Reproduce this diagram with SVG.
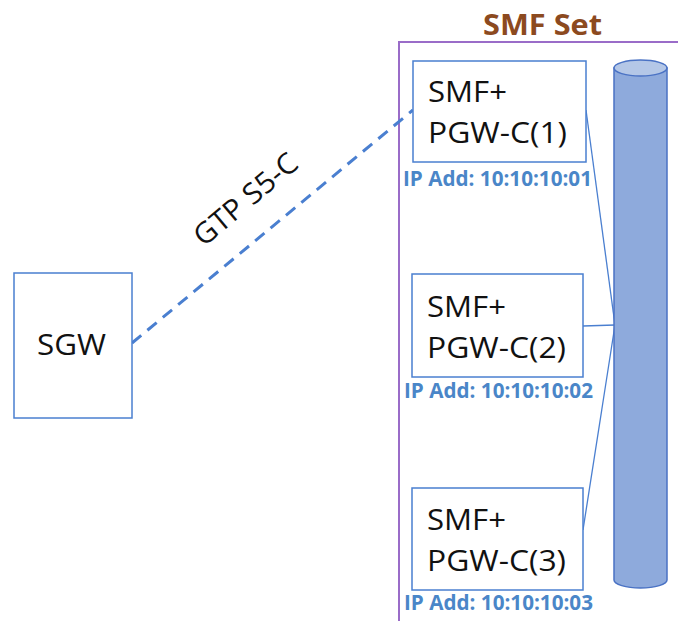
<svg xmlns="http://www.w3.org/2000/svg" width="678" height="621" viewBox="0 0 678 621">
<style>
.box{fill:#fff;stroke:#4a7fd0;stroke-width:1.5}
.lbl{font-family:"Open Sans","Liberation Sans",sans-serif;font-size:29px;fill:#111}
.ip{font-family:"Open Sans","Liberation Sans",sans-serif;font-size:21px;font-weight:bold;fill:#4a86c8}
.conn{stroke:#4a7fd0;stroke-width:1.3;fill:none}
</style>
<rect width="678" height="621" fill="#fff"/>
<g id="smf-set">
<rect x="399" y="42" width="290" height="600" fill="none" stroke="#9a6cc8" stroke-width="2"/>
<text x="483" y="35" textLength="119" lengthAdjust="spacingAndGlyphs" font-family="Open Sans, Liberation Sans, sans-serif" font-size="29" font-weight="bold" fill="#8c4a1f">SMF Set</text>
</g>
<g id="connectors">
<line x1="132" y1="343" x2="413" y2="110" stroke="#4a7fd0" stroke-width="3" stroke-dasharray="12,8"/>
<text transform="translate(252,207) rotate(-40)" x="-63" textLength="126" lengthAdjust="spacingAndGlyphs" class="lbl">GTP S5-C</text>
<line class="conn" x1="586" y1="110" x2="615" y2="325"/>
<line class="conn" x1="583" y1="326" x2="615" y2="325"/>
<line class="conn" x1="583" y1="530" x2="615" y2="325"/>
</g>
<g id="sgw">
<rect class="box" x="14" y="273" width="118" height="145"/>
<text class="lbl" x="37" y="354.5" font-size="31" textLength="69" lengthAdjust="spacingAndGlyphs">SGW</text>
</g>
<g id="smf1">
<rect class="box" x="413" y="61" width="173" height="101"/>
<text class="lbl" x="428" y="101.5" textLength="79" lengthAdjust="spacingAndGlyphs">SMF+</text>
<text class="lbl" x="428" y="142.5" textLength="139" lengthAdjust="spacingAndGlyphs">PGW-C(1)</text>
<text class="ip" x="403" y="186" textLength="189" lengthAdjust="spacingAndGlyphs">IP Add: 10:10:10:01</text>
</g>
<g id="smf2">
<rect class="box" x="412" y="274" width="171" height="103"/>
<text class="lbl" x="427" y="316.5" textLength="79" lengthAdjust="spacingAndGlyphs">SMF+</text>
<text class="lbl" x="427" y="358" textLength="139" lengthAdjust="spacingAndGlyphs">PGW-C(2)</text>
<text class="ip" x="404" y="398" textLength="189" lengthAdjust="spacingAndGlyphs">IP Add: 10:10:10:02</text>
</g>
<g id="smf3">
<rect class="box" x="412" y="488" width="171" height="102"/>
<text class="lbl" x="427" y="529.5" textLength="79" lengthAdjust="spacingAndGlyphs">SMF+</text>
<text class="lbl" x="427" y="571" textLength="139" lengthAdjust="spacingAndGlyphs">PGW-C(3)</text>
<text class="ip" x="404" y="610" textLength="189" lengthAdjust="spacingAndGlyphs">IP Add: 10:10:10:03</text>
</g>
<g id="database">
<path d="M614,68 L614,580 A26.5,8 0 0 0 667,580 L667,68 Z" fill="#8eaadc" stroke="#4a72c4" stroke-width="1.5"/>
<ellipse cx="640.5" cy="68" rx="26.5" ry="8" fill="#b4c7e7" stroke="#4a72c4" stroke-width="1.5"/>
</g>
</svg>
